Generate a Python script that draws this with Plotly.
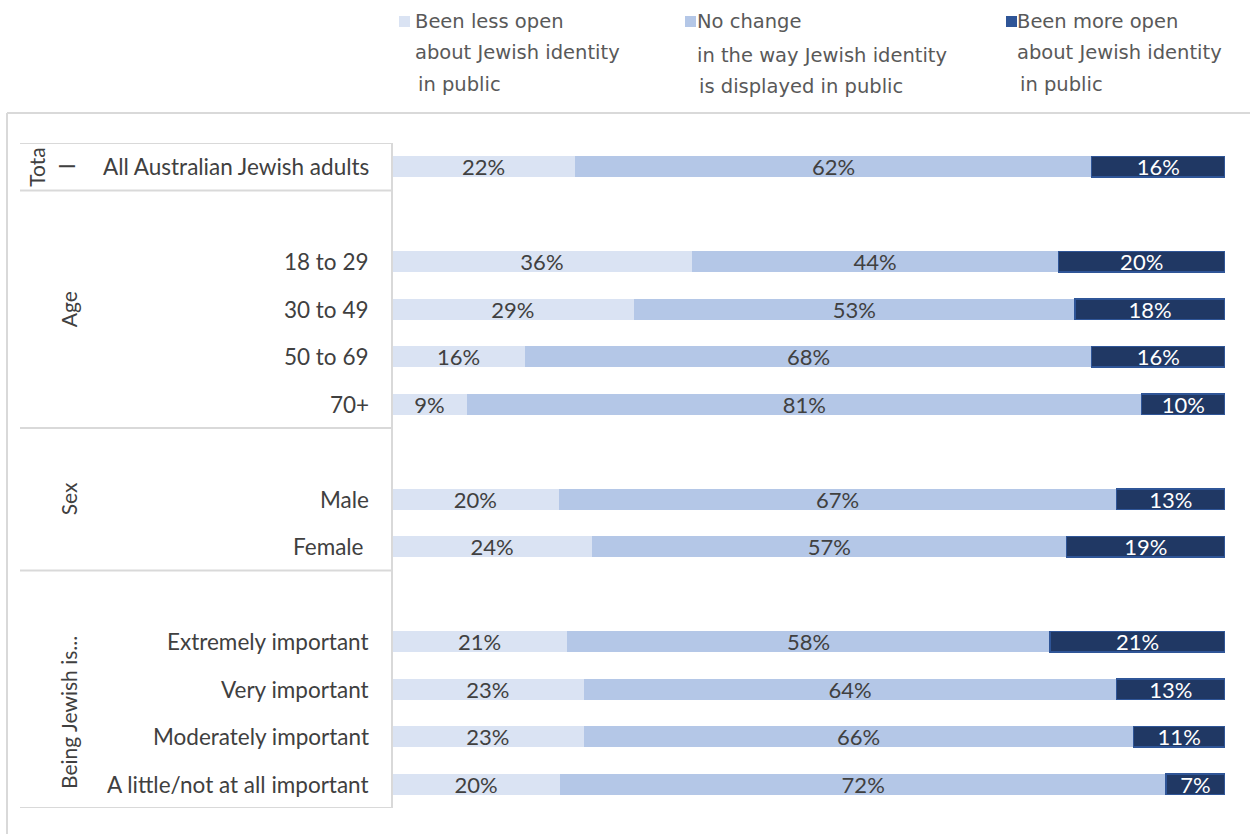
import plotly.graph_objects as go

# Row categories (top to bottom) and their slot positions on the y axis
categories = [
    "All Australian Jewish adults",
    "18 to 29", "30 to 49", "50 to 69", "70+",
    "Male", "Female\u00a0",
    "Extremely important", "Very important", "Moderately important",
    "A little/not at all important",
]
slots = [0, 2, 3, 4, 5, 7, 8, 10, 11, 12, 13]

# Share of respondents (%) for each response
less_open = [22, 36, 29, 16, 9, 20, 24, 21, 23, 23, 20]
no_change = [62, 44, 53, 68, 81, 67, 57, 58, 64, 66, 72]
more_open = [16, 20, 18, 16, 10, 13, 19, 21, 13, 11, 7]

series_names = [
    "Been less open about Jewish identity in public",
    "No change in the way Jewish identity is displayed in public",
    "Been more open about Jewish identity in public",
]
legend_lines = [
    ["Been less open", "about Jewish identity", "in public"],
    ["No change", "in the way Jewish identity", "is displayed in public"],
    ["Been more open", "about Jewish identity", "in public"],
]

groups = [("Age", 3.0), ("Sex", 7.0), ("Being Jewish is...", 11.5)]

# Page geometry (pixels)
W, H = 1250, 834
L, R, T, B = 392, 25, 143, 26
PW, PH = W - L - R, H - T - B


def px_x(p):
    return (p - L) / PW


def px_y(p):
    return (H - B - p) / PH


FONT = "Lato"
TXT = "#404040"
GRID = "#d9d9d9"
C_LESS, C_SAME, C_MORE = "#dae3f3", "#b4c7e7", "#203864"

fig = go.Figure()
for vals, name, col, border, tcol in [
    (less_open, series_names[0], C_LESS, C_LESS, TXT),
    (no_change, series_names[1], C_SAME, C_SAME, TXT),
    (more_open, series_names[2], C_MORE, "#2f5597", "white"),
]:
    fig.add_trace(go.Bar(
        x=vals, y=slots, orientation="h", name=name,
        marker=dict(color=col, line=dict(color=border, width=1.5 if col == C_MORE else 0)),
        width=0.44,
        text=[f"{v}%" for v in vals],
        textposition="inside", insidetextanchor="middle",
        textfont=dict(family=FONT, size=22, color=tcol),
        showlegend=False, hoverinfo="name+x",
    ))

shapes = []
# outer frame
shapes.append(dict(type="line", xref="paper", yref="paper",
                   x0=px_x(7), x1=px_x(W + 5), y0=px_y(113), y1=px_y(113),
                   line=dict(color=GRID, width=2)))
shapes.append(dict(type="line", xref="paper", yref="paper",
                   x0=px_x(7), x1=px_x(7), y0=px_y(113), y1=px_y(H + 5),
                   line=dict(color=GRID, width=2)))
# category table rules
for yb in [-0.5, 0.5, 5.5, 8.5, 13.5]:
    shapes.append(dict(type="line", xref="paper", yref="y",
                       x0=px_x(20), x1=0, y0=yb, y1=yb,
                       line=dict(color=GRID, width=2)))
shapes.append(dict(type="line", xref="paper", yref="y",
                   x0=0, x1=0, y0=-0.5, y1=13.5,
                   line=dict(color=GRID, width=2)))

# legend swatches
legend_x = [399, 685, 1006]
for lx, col in zip(legend_x, [C_LESS, C_SAME, "#2f5597"]):
    shapes.append(dict(type="rect", xref="paper", yref="paper",
                       x0=px_x(lx), x1=px_x(lx + 11), y0=px_y(27), y1=px_y(16),
                       fillcolor=col, line=dict(width=0)))

annotations = []
# row labels
for cat, s in zip(categories, slots):
    annotations.append(dict(x=0, xref="paper", y=s, yref="y", text=cat,
                            xanchor="right", yanchor="middle", xshift=-21,
                            showarrow=False,
                            font=dict(family=FONT, size=22.5, color=TXT)))
# group labels (rotated)
for g, yc in groups:
    annotations.append(dict(x=px_x(68), xref="paper", y=yc, yref="y", text=g,
                            textangle=-90, xanchor="center", yanchor="middle",
                            showarrow=False,
                            font=dict(family=FONT, size=21, color=TXT)))
annotations.append(dict(x=px_x(37), xref="paper", y=0, yref="y", text="Tota",
                        textangle=-90, xanchor="center", yanchor="middle",
                        showarrow=False, font=dict(family=FONT, size=21, color=TXT)))
annotations.append(dict(x=px_x(67), xref="paper", y=0, yref="y", text="l",
                        textangle=-90, xanchor="center", yanchor="middle",
                        showarrow=False, font=dict(family=FONT, size=21, color=TXT)))

# legend text
line_x = [[413, 413, 416], [695, 695, 697], [1015, 1015, 1018]]
line_y = [[21, 53, 84], [21, 56, 87], [21, 53, 84]]
for lines, xs, ys in zip(legend_lines, line_x, line_y):
    for t, xx, yy in zip(lines, xs, ys):
        annotations.append(dict(x=px_x(xx), xref="paper", y=px_y(yy), yref="paper",
                                text=t, xanchor="left", yanchor="middle",
                                showarrow=False,
                                font=dict(family="DejaVu Sans", size=19.5, color="#595959")))

fig.update_layout(
    width=W, height=H,
    margin=dict(l=L, r=R, t=T, b=B, pad=0),
    barmode="stack", barnorm="percent",
    plot_bgcolor="white", paper_bgcolor="white",
    xaxis=dict(range=[0, 100], visible=False, fixedrange=True),
    yaxis=dict(range=[13.5, -0.5], visible=False, fixedrange=True),
    uniformtext=dict(minsize=22, mode="show"),
    shapes=shapes, annotations=annotations,
    showlegend=False,
)

fig.write_html("out.html")
